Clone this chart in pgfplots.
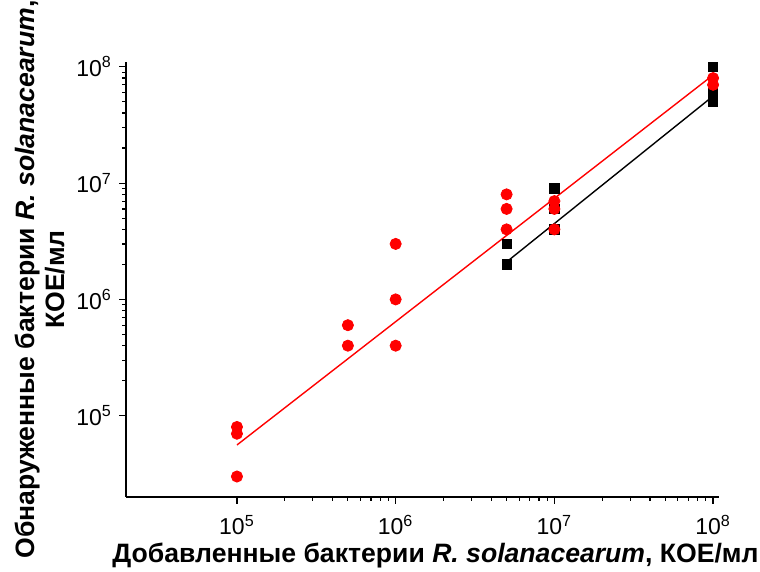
\documentclass[border=0pt]{standalone}
\usepackage{fontspec}
\setmainfont{Liberation Sans}
\usepackage{pgfplots}
\pgfplotsset{compat=1.18}
\begin{document}
\begin{tikzpicture}
\path[use as bounding box] (-63pt,-37.5pt) rectangle (317pt,248.5pt);
\begin{axis}[
  at={(0pt,0pt)}, anchor=south west,
  scale only axis, width=296.5pt, height=217.5pt,
  xmode=log, ymode=log,
  xmin=2e4, xmax=1.09e8, ymin=2e4, ymax=1.1e8,
  axis x line*=bottom, axis y line*=left,
  axis line style={line width=0.8pt},
  tick style={black, line width=0.6pt},
  tick align=outside,
  major tick length=3.5pt, minor tick length=2pt,
  xtick={1e5,1e6,1e7,1e8}, ytick={1e5,1e6,1e7,1e8},
  xticklabels={10\textsuperscript{5},10\textsuperscript{6},10\textsuperscript{7},10\textsuperscript{8}},
  yticklabels={10\textsuperscript{5},10\textsuperscript{6},10\textsuperscript{7},10\textsuperscript{8}},
  ticklabel style={font=\fontsize{11.5}{13}\selectfont},
  xticklabel style={yshift=-2pt},
  yticklabel style={xshift=0pt},
  xlabel={\textbf{Добавленные бактерии \textit{R. solanacearum}, КОЕ/мл}},
  ylabel={\textbf{Обнаруженные бактерии \textit{R. solanacearum},}\\\textbf{КОЕ/мл}},
  ylabel style={align=center, font=\fontsize{13.3}{15}\selectfont, yshift=-1pt},
  xlabel style={font=\fontsize{13.3}{15}\selectfont, yshift=3pt, xshift=6.5pt},
  clip=false,
]
\addplot[black, line width=0.7pt, no marks] coordinates {(5e6,2.1e6) (1e8,5.6e7)};
\addplot[only marks, mark=square*, mark size=2.3pt, black] coordinates {
  (5e6,3e6) (5e6,2e6)
  (1e7,9e6) (1e7,6e6) (1e7,4e6)
  (1e8,1e8) (1e8,6e7) (1e8,5e7)
};
\addplot[red, line width=0.7pt, no marks] coordinates {(1e5,5.6e4) (1e8,8.5e7)};
\addplot[only marks, mark=*, mark size=2.8pt, red, mark options={draw=red, fill=red}] coordinates {
  (1e5,8e4) (1e5,7e4) (1e5,3e4)
  (5e5,6e5) (5e5,4e5)
  (1e6,3e6) (1e6,1e6) (1e6,4e5)
  (5e6,8e6) (5e6,6e6) (5e6,4e6)
  (1e7,7e6) (1e7,6e6) (1e7,4e6)
  (1e8,8e7) (1e8,7e7)
};
\end{axis}
\end{tikzpicture}
\end{document}
